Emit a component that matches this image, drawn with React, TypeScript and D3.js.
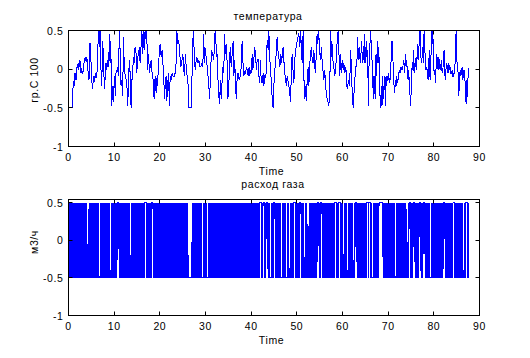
import React from "react";
import * as d3 from "d3";

// ---------- data ----------
const xTicks = [0, 10, 20, 30, 40, 50, 60, 70, 80, 90];
const yTicks = [-1, -0.5, 0, 0.5];
const yTickLabels = ["-1", "-0.5", "0", "0.5"];

const titleTemp = "температура";
const titleGas = "расход газа";
const yLabelTemp = "гр.С 100";
const yLabelGas = "м3/ч";
const xLabel = "Time";

// temperature, [time, value] (t 0 .. 31)
const tempPart1: [number, number][] = [
  [0.1, -0.5], [0.84, -0.5], [0.91, -0.34], [1.06, -0.16], [1.21, -0.22], [1.43, -0.05], [1.64, -0.14], [1.79, -0.01],
  [1.94, 0.07], [2.16, -0.01], [2.38, 0.12], [2.52, 0.03], [2.67, 0.1], [2.74, -0.05], [2.89, -0.01], [3.11, -0.05],
  [3.25, -0.01], [3.47, 0.12], [3.62, 0.15], [3.84, 0.1], [3.98, 0.15], [4.2, 0.08], [4.35, -0.14], [4.57, -0.11],
  [4.71, 0.34], [4.86, 0.2], [5.08, -0.14], [5.3, -0.26], [5.45, -0.09], [5.67, -0.16], [5.88, -0.05], [6.03, -0.11],
  [6.18, -0.05], [6.32, -0.01], [6.54, 0.5], [6.76, 0.29], [6.91, 0.5], [7.05, 0.08], [7.27, -0.22], [7.49, 0.37],
  [7.64, 0.16], [7.86, -0.26], [8.0, -0.14], [8.22, 0.08], [8.37, -0.01], [8.59, 0.12], [8.81, 0.03], [8.95, 0.46],
  [9.1, 0.08], [9.25, 0.37], [9.47, -0.47], [9.69, -0.22], [9.83, -0.43], [10.05, -0.09], [10.27, -0.35], [10.42, -0.01],
  [10.56, -0.05], [10.71, 0.03], [10.93, -0.09], [11.15, 0.5], [11.29, 0.25], [11.51, -0.22], [11.73, -0.14], [11.88, -0.35],
  [12.02, 0.42], [12.24, -0.01], [12.46, -0.09], [12.76, -0.18], [12.98, -0.47], [13.19, -0.05], [13.34, 0.12], [13.49, -0.05],
  [13.71, -0.5], [13.85, -0.18], [14.07, -0.01], [14.22, 0.16], [14.36, 0.08], [14.58, 0.29], [14.8, 0.2], [14.95, -0.05],
  [15.1, 0.12], [15.31, 0.2], [15.53, 0.29], [15.68, 0.08], [15.9, 0.31], [16.04, 0.5], [16.19, 0.2], [16.34, 0.5],
  [16.56, 0.25], [16.7, 0.46], [16.85, 0.5], [17.0, 0.37], [17.14, 0.5], [17.29, -0.01], [17.51, 0.2], [17.73, -0.05],
  [17.87, 0.03], [18.09, 0.12], [18.31, -0.05], [18.53, -0.14], [18.75, -0.39], [18.97, -0.09], [19.19, -0.31], [19.34, -0.11],
  [19.48, -0.22], [19.7, 0.03], [19.92, 0.25], [20.07, 0.33], [20.29, 0.16], [20.5, 0.25], [20.65, 0.08], [20.8, -0.01],
  [21.02, -0.39], [21.16, -0.22], [21.38, -0.09], [21.53, -0.41], [21.67, -0.26], [21.89, -0.05], [22.11, -0.47], [22.26, -0.09],
  [22.48, -0.14], [22.7, -0.05], [22.92, -0.09], [23.14, -0.09], [23.36, -0.05], [23.57, 0.08], [23.72, 0.5], [23.94, 0.33],
  [24.09, 0.37], [24.31, 0.29], [24.45, 0.12], [24.6, 0.03], [24.82, 0.1], [25.04, 0.2], [25.18, 0.03], [25.4, -0.09],
  [25.62, 0.2], [25.77, 0.03], [25.99, -0.09], [26.21, -0.22], [26.35, -0.5], [26.86, -0.5], [27.01, -0.14], [27.16, 0.08],
  [27.3, 0.5], [27.52, 0.25], [27.74, -0.01], [27.96, 0.12], [28.11, 0.16], [28.33, 0.08], [28.55, 0.12], [28.77, 0.03],
  [28.99, 0.03], [29.2, 0.08], [29.42, 0.03], [29.57, 0.46], [29.79, 0.08], [30.01, 0.27], [30.16, 0.12], [30.3, 0.08],
  [30.45, -0.05], [30.67, -0.14], [30.89, -0.39],
];

// temperature, t 31 .. 62
const tempPart2: [number, number][] = [
  [31.31, 0.25], [31.53, 0.2], [31.82, 0.12], [32.04, 0.46], [32.19, 0.5], [32.41, 0.16], [32.55, 0.2], [32.7, -0.09],
  [32.92, -0.35], [33.07, -0.45], [33.28, -0.14], [33.43, -0.39], [33.58, -0.22], [33.8, 0.03], [34.01, -0.05], [34.16, 0.46],
  [34.31, 0.2], [34.53, 0.33], [34.74, 0.08], [34.89, -0.39], [35.11, -0.22], [35.33, 0.2], [35.47, 0.29], [35.62, 0.03],
  [35.84, 0.2], [36.06, 0.37], [36.2, -0.09], [36.42, 0.12], [36.57, -0.26], [36.79, -0.39], [36.93, -0.09], [37.15, -0.05],
  [37.37, -0.14], [37.52, -0.11], [37.66, -0.09], [37.81, 0.03], [38.03, 0.37], [38.18, 0.12], [38.39, -0.09], [38.54, -0.03],
  [38.76, -0.05], [38.98, 0.03], [39.12, -0.01], [39.34, -0.09], [39.56, 0.03], [39.71, -0.09], [39.85, -0.01], [40.07, -0.05],
  [40.22, 0.2], [40.36, -0.01], [40.58, 0.12], [40.8, 0.29], [40.95, 0.16], [41.17, -0.01], [41.31, 0.12], [41.53, 0.12],
  [41.75, -0.14], [41.9, -0.18], [42.04, 0.12], [42.19, -0.14], [42.41, -0.18], [42.63, -0.05], [42.77, -0.22], [42.99, -0.09],
  [43.21, -0.11], [43.36, 0.08], [43.5, 0.37], [43.72, 0.25], [43.87, 0.5], [44.09, 0.12], [44.23, 0.03], [44.45, -0.22],
  [44.67, -0.43], [44.82, -0.5], [44.96, -0.22], [45.18, -0.01], [45.4, 0.12], [45.55, 0.29], [45.69, 0.42], [45.91, 0.2],
  [46.13, 0.12], [46.28, 0.03], [46.5, 0.2], [46.64, 0.08], [46.86, 0.2], [47.01, 0.29], [47.15, 0.12], [47.37, -0.05],
  [47.52, -0.14], [47.74, -0.22], [47.88, -0.09], [48.03, -0.14], [48.25, -0.22], [48.47, -0.31], [48.61, -0.43], [48.83, -0.01],
  [48.98, 0.2], [49.2, -0.05], [49.34, -0.18], [49.56, 0.12], [49.71, 0.25], [49.93, 0.29], [50.07, 0.37], [50.29, 0.42],
  [50.44, 0.46], [50.66, 0.29], [50.8, 0.5], [51.02, 0.25], [51.17, 0.08], [51.39, 0.5], [51.53, -0.09], [51.75, -0.39],
  [51.97, -0.22], [52.12, -0.41], [52.26, -0.14], [52.48, 0.03], [52.63, -0.22], [52.85, 0.08], [52.99, 0.2], [53.21, 0.29],
  [53.36, 0.12], [53.58, 0.08], [53.72, 0.25], [53.94, 0.03], [54.09, -0.05], [54.31, 0.29], [54.45, 0.46], [54.6, 0.33],
  [54.74, 0.5], [54.89, 0.37], [55.04, 0.2], [55.18, 0.12], [55.4, 0.29], [55.55, 0.08], [55.77, -0.05], [55.91, -0.14],
  [56.13, -0.01], [56.28, -0.22], [56.5, -0.31], [56.64, -0.39], [56.86, -0.43], [57.01, -0.48], [57.23, -0.22], [57.37, 0.5],
  [57.52, 0.16], [57.66, 0.37], [57.81, 0.2], [57.96, 0.08], [58.1, 0.03], [58.32, -0.09], [58.47, -0.01], [58.69, 0.16],
  [58.83, 0.37], [59.05, 0.5], [59.27, 0.12], [59.42, -0.09], [59.56, 0.2], [59.78, -0.05], [59.93, 0.12], [60.15, -0.01],
  [60.29, 0.08], [60.51, -0.05], [60.73, 0.03], [60.88, -0.14], [61.02, -0.26], [61.24, -0.18], [61.39, -0.14], [61.61, -0.22],
];

// temperature, t 62 .. 88
const tempPart3: [number, number][] = [
  [61.71, 0.25], [61.93, 0.08], [62.08, -0.22], [62.22, -0.43], [62.37, -0.5], [62.59, -0.22], [62.81, -0.05], [62.95, 0.03],
  [63.17, 0.12], [63.32, 0.42], [63.46, 0.16], [63.61, 0.12], [63.76, 0.29], [63.9, 0.08], [64.05, 0.2], [64.2, 0.37],
  [64.34, 0.08], [64.49, 0.2], [64.63, 0.12], [64.78, 0.46], [64.93, 0.08], [65.07, 0.2], [65.22, 0.37], [65.37, 0.16],
  [65.51, 0.25], [65.66, -0.47], [65.8, 0.03], [65.95, 0.25], [66.17, 0.5], [66.32, 0.25], [66.46, 0.12], [66.61, -0.09],
  [66.75, -0.39], [66.9, -0.09], [67.05, -0.26], [67.19, -0.39], [67.34, 0.2], [67.49, -0.09], [67.63, 0.37], [67.78, 0.08],
  [67.92, 0.29], [68.07, 0.03], [68.22, -0.35], [68.36, -0.5], [68.51, -0.22], [68.65, -0.47], [68.8, -0.09], [68.95, -0.39],
  [69.09, -0.22], [69.24, -0.09], [69.39, -0.47], [69.53, -0.09], [69.68, -0.22], [69.82, -0.09], [69.97, -0.14], [70.12, -0.05],
  [70.26, -0.18], [70.41, -0.14], [70.56, -0.05], [70.7, 0.25], [70.85, 0.37], [70.99, 0.2], [71.14, -0.01], [71.29, -0.22],
  [71.43, -0.31], [71.58, -0.14], [71.73, -0.22], [71.87, -0.09], [72.02, -0.18], [72.16, -0.14], [72.31, -0.05], [72.46, -0.01],
  [72.6, -0.05], [72.75, 0.03], [72.89, -0.01], [73.04, 0.03], [73.19, -0.01], [73.33, 0.12], [73.48, 0.08], [73.63, -0.05],
  [73.77, 0.2], [73.92, 0.03], [74.06, 0.12], [74.21, -0.05], [74.36, -0.14], [74.5, -0.01], [74.65, -0.22], [74.8, -0.35],
  [74.94, -0.48], [75.09, -0.14], [75.23, 0.03], [75.38, -0.01], [75.53, 0.25], [75.67, -0.05], [75.82, 0.08], [75.96, 0.03],
  [76.11, 0.16], [76.26, -0.01], [76.4, 0.33], [76.55, 0.12], [76.7, 0.25], [76.84, 0.37], [76.99, 0.5], [77.13, 0.2],
  [77.28, 0.08], [77.43, 0.16], [77.57, 0.29], [77.72, 0.08], [77.87, 0.5], [78.01, 0.33], [78.16, 0.03], [78.3, -0.01],
  [78.45, 0.03], [78.6, -0.05], [78.74, -0.14], [78.89, 0.08], [79.04, 0.25], [79.18, -0.14], [79.33, -0.01], [79.47, 0.5],
  [79.62, 0.33], [79.77, 0.5], [79.91, 0.2], [80.06, -0.05], [80.2, -0.01], [80.35, -0.18], [80.5, 0.03], [80.64, 0.2],
  [80.79, 0.08], [80.94, -0.01], [81.08, 0.16], [81.23, 0.08], [81.37, -0.01], [81.52, 0.03], [81.67, 0.12], [81.81, -0.05],
  [81.96, -0.01], [82.11, 0.08], [82.25, 0.25], [82.4, -0.05], [82.54, -0.14], [82.69, 0.03], [82.84, 0.08], [82.98, -0.01],
  [83.13, -0.05], [83.28, 0.08], [83.42, -0.01], [83.57, 0.03], [83.71, -0.05], [83.86, -0.05], [84.01, -0.01], [84.15, -0.09],
  [84.3, -0.09], [84.44, -0.05], [84.59, -0.01], [84.74, 0.2], [84.88, 0.5], [85.03, 0.12], [85.18, 0.03], [85.32, -0.05],
  [85.47, -0.35], [85.61, -0.14], [85.76, -0.01], [85.91, -0.09], [86.05, -0.05], [86.2, 0.03], [86.35, -0.14], [86.49, -0.01],
  [86.64, -0.14], [86.78, -0.01], [86.93, -0.43], [87.08, -0.14], [87.22, -0.45], [87.37, -0.14], [87.52, -0.11], [87.66, 0.01],
];

// gas flow: run-length code of the 0.1 s samples, [samples switching every step, samples held]
const gasSamplePeriod = 0.1;
const gasAmplitude = 0.5;
const gasPattern: [number, number][] = [
  [41, 4], [21, 4], [21, 4], [12, 4], [24, 4], [28, 4], [11, 4], [76, 9], [21, 4], [7, 4],
  [112, 4], [3, 4], [3, 4], [4, 4], [4, 4], [12, 4], [7, 4], [3, 4], [6, 4], [9, 4],
  [6, 4], [3, 4], [18, 4], [3, 4], [27, 4], [5, 4], [4, 4], [5, 4], [9, 4], [2, 4],
  [21, 4], [1, 4], [2, 4], [12, 9], [26, 4], [21, 4], [2, 4], [5, 4], [9, 4], [5, 4],
  [10, 4], [26, 4], [17, 4], [18, 4], [2, 4], [3, 0],
];

// ---------- layout ----------
const W = 530;
const H = 358;
const X0 = 68.5;
const X1 = 479.5;
const TOP1 = 30.5;
const BOT1 = 146.5;
const TOP2 = 199.5;
const BOT2 = 315.5;
const TICK = 4;
const FONT = "'Liberation Sans', Arial, Helvetica, sans-serif";
const BLUE = "#0000ff";

function decodeGas(): [number, number][] {
  const out: [number, number][] = [];
  let level = gasAmplitude;
  let idx = 0;
  for (const [fast, hold] of gasPattern) {
    for (let i = 0; i < fast; i++) {
      out.push([idx * gasSamplePeriod, level]);
      idx++;
      level = -level;
    }
    for (let i = 0; i < hold; i++) {
      out.push([idx * gasSamplePeriod, level]);
      idx++;
    }
    if (hold > 0) level = -level;
  }
  return out;
}

type PanelProps = {
  id: string;
  top: number;
  bottom: number;
  yMax: number;
  data: [number, number][];
  title: string;
  titleX: number;
  titleY: number;
  yLabel: string;
  yLabelY: number;
  xLabelY: number;
  tickLabelY: number;
};

function Panel(p: PanelProps) {
  const x = d3.scaleLinear().domain([0, 90]).range([X0, X1]);
  const y = d3.scaleLinear().domain([-1, p.yMax]).range([p.bottom, p.top]);
  const line = d3
    .line<[number, number]>()
    .x((d) => x(d[0]))
    .y((d) => y(d[1]));
  const txt = { fontFamily: FONT, fontSize: 10.5, fill: "#000", letterSpacing: 0.6 } as const;
  return (
    <g>
      <defs>
        <clipPath id={p.id}>
          <rect x={X0} y={p.top} width={X1 - X0} height={p.bottom - p.top} />
        </clipPath>
      </defs>
      <path
        d={line(p.data) || ""}
        fill="none"
        stroke={BLUE}
        strokeWidth={1}
        clipPath={`url(#${p.id})`}
        shapeRendering="crispEdges"
      />
      <rect x={X0} y={p.top} width={X1 - X0} height={p.bottom - p.top} fill="none" stroke="#000" strokeWidth={1} />
      {xTicks.map((t) => (
        <g key={"x" + t}>
          <line x1={Math.round(x(t) - 0.5) + 0.5} x2={Math.round(x(t) - 0.5) + 0.5} y1={p.bottom} y2={p.bottom - TICK} stroke="#000" />
          <line x1={Math.round(x(t) - 0.5) + 0.5} x2={Math.round(x(t) - 0.5) + 0.5} y1={p.top} y2={p.top + TICK} stroke="#000" />
          <text x={x(t)} y={p.tickLabelY} textAnchor="middle" style={txt}>
            {String(t)}
          </text>
        </g>
      ))}
      {yTicks.map((v, i) => {
        const yy = Math.round(y(v) - 0.5) + 0.5;
        return (
          <g key={"y" + v}>
            <line x1={X0} x2={X0 + TICK} y1={yy} y2={yy} stroke="#000" />
            <line x1={X1} x2={X1 - TICK} y1={yy} y2={yy} stroke="#000" />
            <text x={X0 - 5} y={y(v) + 4} textAnchor="end" style={txt}>
              {yTickLabels[i]}
            </text>
          </g>
        );
      })}
      <text x={p.titleX} y={p.titleY} textAnchor="middle" style={txt}>
        {p.title}
      </text>
      <text x={271.5} y={p.xLabelY} textAnchor="middle" style={txt}>
        {xLabel}
      </text>
      <text
        transform={`translate(38,${p.yLabelY}) rotate(-90)`}
        textAnchor="middle"
        style={txt}
      >
        {p.yLabel}
      </text>
    </g>
  );
}

export default function App() {
  const temperature = [...tempPart1, ...tempPart2, ...tempPart3];
  const gas = decodeGas();
  return (
    <svg
      width={W}
      height={H}
      viewBox={`0 0 ${W} ${H}`}
      style={{ position: "absolute", left: 0, top: 0, background: "#fff" }}
    >
      <rect x={0} y={0} width={W} height={H} fill="#fff" />
      <Panel
        id="clipTemp"
        top={TOP1}
        bottom={BOT1}
        yMax={0.5}
        data={temperature}
        title={titleTemp}
        titleX={268}
        titleY={20}
        yLabel={yLabelTemp}
        yLabelY={80}
        xLabelY={175}
        tickLabelY={161}
      />
      <Panel
        id="clipGas"
        top={TOP2}
        bottom={BOT2}
        yMax={0.54}
        data={gas}
        title={titleGas}
        titleX={273}
        titleY={188}
        yLabel={yLabelGas}
        yLabelY={242}
        xLabelY={344}
        tickLabelY={330}
      />
    </svg>
  );
}
